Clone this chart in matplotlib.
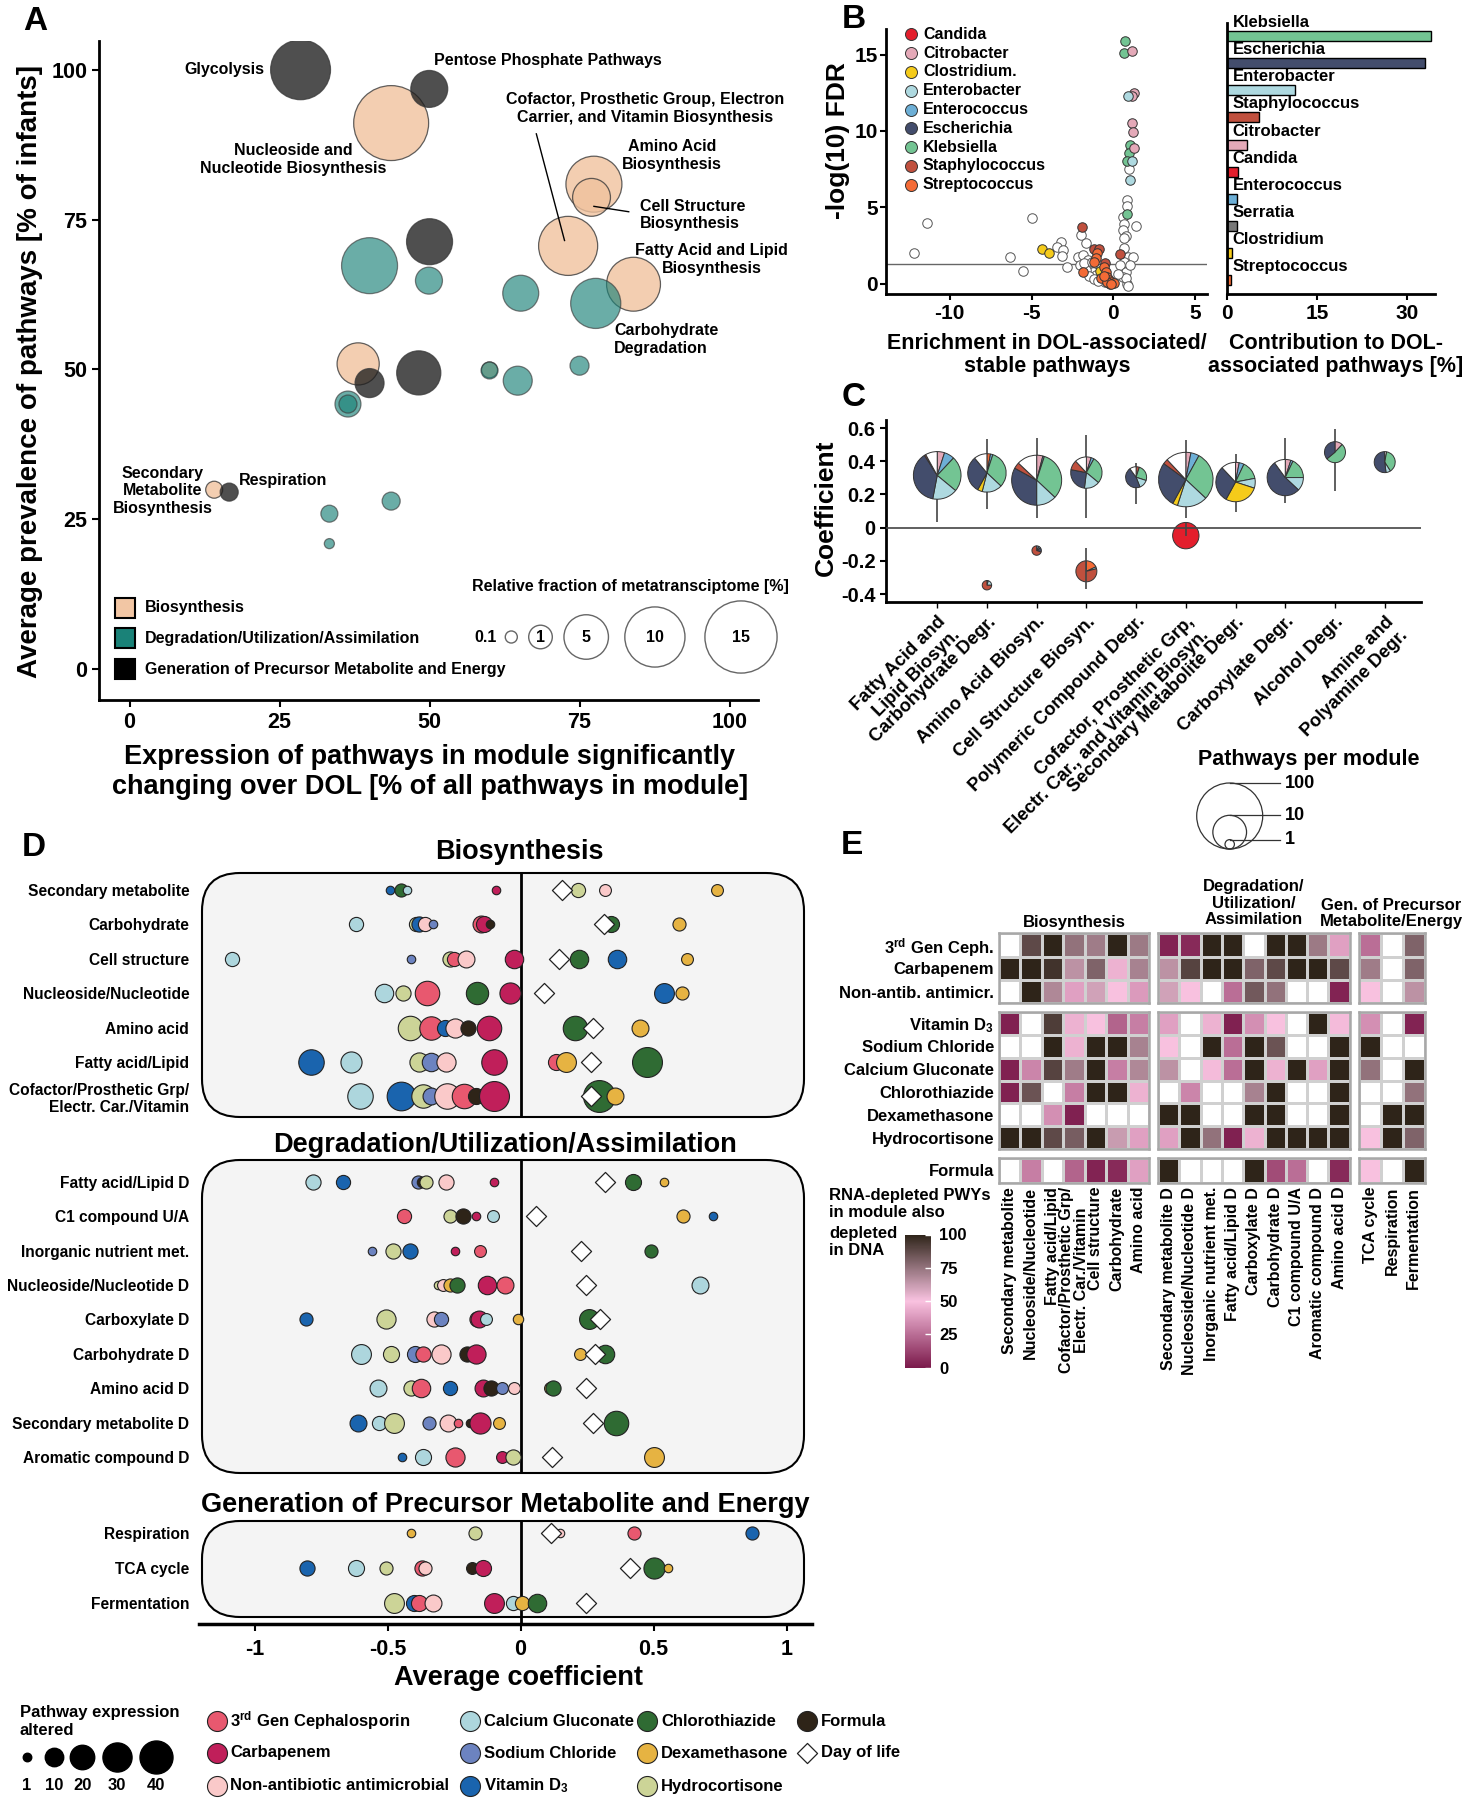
import numpy as np
import matplotlib
matplotlib.use("Agg")
import matplotlib.pyplot as plt
from matplotlib.patches import Wedge, FancyBboxPatch, Circle, Rectangle
from matplotlib.colors import LinearSegmentedColormap
from matplotlib import transforms

W, H = 1465, 1800
plt.rcParams['font.family'] = ['Liberation Sans', 'DejaVu Sans']
plt.rcParams['font.weight'] = 'bold'
plt.rcParams['axes.unicode_minus'] = False
plt.rcParams['mathtext.fontset'] = 'custom'
plt.rcParams['mathtext.rm'] = 'Liberation Sans:bold'
plt.rcParams['mathtext.bf'] = 'Liberation Sans:bold'
plt.rcParams['mathtext.it'] = 'Liberation Sans:bold'

# ---------------- data: panel A ----------------
a_bio_x = [43.6, 77.4, 77.0, 73.1, 84.0, 38.1, 60.0, 14.1]
a_bio_y = [91.1, 80.9, 78.7, 70.6, 64.2, 50.9, 49.9, 29.9]
a_bio_f = [16.3, 8.5, 3.4, 9.6, 7.8, 4.4, 0.30, 0.37]
a_deg_x = [40.0, 49.9, 65.2, 77.7, 75.0, 60.0, 64.7, 36.4, 36.4, 33.3, 43.6, 33.3]
a_deg_y = [67.3, 64.8, 62.7, 61.0, 50.6, 49.8, 48.1, 44.2, 44.2, 25.9, 28.0, 20.9]
a_deg_f = [8.5, 1.44, 3.0, 6.6, 0.53, 0.37, 1.74, 1.3, 0.45, 0.37, 0.45, 0.04]
a_gen_x = [28.5, 49.95, 50.0, 48.2, 40.0, 16.6]
a_gen_y = [100.0, 96.8, 71.3, 49.4, 47.7, 29.5]
a_gen_f = [9.9, 3.2, 5.4, 4.9, 1.74, 0.45]
a_size_keys = [0.1, 1, 5, 10, 15]
a_labels = [
    ("Glycolysis", 22.5, 100.0, 'right'),
    ("Pentose Phosphate Pathways", 50.7, 101.6, 'left'),
    ("Nucleoside and\nNucleotide Biosynthesis", 27.3, 85.0, 'center'),
    ("Cofactor, Prosthetic Group, Electron\nCarrier, and Vitamin Biosynthesis", 86.0, 93.5, 'center'),
    ("Amino Acid\nBiosynthesis", 90.4, 85.7, 'center'),
    ("Cell Structure\nBiosynthesis", 85.0, 75.8, 'left'),
    ("Fatty Acid and Lipid\nBiosynthesis", 97.0, 68.3, 'center'),
    ("Carbohydrate\nDegradation", 80.8, 55.0, 'left'),
    ("Secondary\nMetabolite\nBiosynthesis", 5.5, 29.7, 'center'),
    ("Respiration", 18.2, 31.4, 'left'),
]

# ---------------- data: panel B ----------------
genus_col = {
    'Candida': '#E31E2C', 'Citrobacter': '#E4A9B8', 'Clostridium': '#F5CB1A',
    'Enterobacter': '#AED9E0', 'Enterococcus': '#6DAFD6', 'Escherichia': '#434D6C',
    'Klebsiella': '#73C493', 'Staphylococcus': '#C0503E', 'Streptococcus': '#F46B36',
    'Serratia': '#777777', 'Other': 'white',
}
b_legend = ['Candida', 'Citrobacter', 'Clostridium', 'Enterobacter', 'Enterococcus',
            'Escherichia', 'Klebsiella', 'Staphylococcus', 'Streptococcus']
b_white = [(-11.4, 3.95), (-12.2, 2.0), (-6.3, 1.75), (-5.5, 0.8), (-5.0, 4.3),
           (-3.23, 2.7), (-3.44, 2.37), (-3.07, 2.2), (-3.17, 1.83), (-2.86, 1.07),
           (-1.99, 3.18), (-1.7, 2.64), (-2.15, 1.72), (-1.84, 1.87), (-2.05, 1.22),
           (-1.56, 1.55), (-1.4, 1.11), (-1.25, 0.78), (-1.05, 0.56), (-0.85, 0.34),
           (-0.54, 0.12), (-1.7, 0.9), (-1.5, 0.5), (-1.2, 0.3), (-0.95, 0.15),
           (-1.8, 1.35), (-1.3, 1.4), (-0.7, 0.7), (-0.3, 0.1),
           (0.85, 5.5), (0.85, 5.1), (1.4, 3.8), (0.6, 4.34), (0.66, 3.9), (0.56, 3.5),
           (0.76, 3.12), (0.64, 2.97), (0.97, 7.5), (0.91, 1.76), (1.17, 1.72),
           (0.64, 1.44), (0.4, 1.22), (0.77, 0.78), (0.56, 0.45), (0.81, 0.0),
           (0.77, 0.34), (0.66, 2.3), (1.0, 1.2), (0.3, 0.6), (0.9, -0.17)]
b_pts = {
    'Klebsiella': [(0.73, 15.9), (0.62, 15.1), (1.04, 9.06), (0.98, 8.56), (0.85, 8.05), (0.85, 4.56)],
    'Citrobacter': [(1.16, 15.2), (1.25, 12.5), (1.16, 12.3), (1.15, 10.5), (1.17, 9.9), (1.24, 8.9)],
    'Enterobacter': [(0.92, 12.3), (1.15, 8.05), (1.01, 6.8)],
    'Clostridium': [(-4.35, 2.27), (-3.93, 2.03), (-0.83, 0.85)],
    'Staphylococcus': [(-1.9, 3.68), (-1.19, 2.27), (-0.87, 2.27), (-0.52, 1.37), (0.4, 1.94)],
    'Streptococcus': [(-1.03, 1.98), (-1.07, 1.65), (-1.19, 1.39), (-1.88, 0.78), (-0.58, 1.07),
                      (-0.45, 0.73), (-0.38, 0.45), (-0.26, 0.23), (-0.12, 0.12), (0.03, 0.05),
                      (-0.22, 0.0), (-0.73, 0.34), (-0.38, 0.12), (-0.6, 0.5), (-0.15, -0.05)],
}
b_bar_names = ["Klebsiella", "Escherichia", "Enterobacter", "Staphylococcus", "Citrobacter",
               "Candida", "Enterococcus", "Serratia", "Clostridium", "Streptococcus"]
b_bar_vals = [34.0, 33.0, 11.3, 5.3, 3.3, 1.9, 1.7, 1.6, 0.85, 0.6]

# ---------------- data: panel C ----------------
c_cats = ["Fatty Acid and\nLipid Biosyn.", "Carbohydrate Degr.", "Amino Acid Biosyn.",
          "Cell Structure Biosyn.", "Polymeric Compound Degr.",
          "Cofactor, Prosthetic Grp,\nElectr. Car., and Vitamin Biosyn.",
          "Secondary Metabolite Degr.", "Carboxylate Degr.", "Alcohol Degr.",
          "Amine and\nPolyamine Degr."]
c_pos_coef = [0.315, 0.33, 0.286, 0.332, 0.304, 0.29, 0.275, 0.302, 0.455, 0.395]
c_pos_lo = [0.032, 0.11, 0.06, 0.056, 0.14, 0.056, 0.096, 0.15, 0.222, None]
c_pos_hi = [0.46, 0.535, 0.543, 0.559, 0.39, 0.529, 0.443, 0.539, 0.595, None]
c_pos_n = [27, 14, 32, 8, 3, 44, 15, 12, 3, 3]
c_pos_pies = [
    [('Citrobacter', .05), ('Enterococcus', .07), ('Klebsiella', .24), ('Enterobacter', .17), ('Escherichia', .38), ('Staphylococcus', .01), ('Other', .08)],
    [('Streptococcus', .03), ('Enterococcus', .02), ('Klebsiella', .32), ('Enterobacter', .17), ('Clostridium', .04), ('Escherichia', .31), ('Other', .11)],
    [('Citrobacter', .04), ('Enterococcus', .01), ('Klebsiella', .32), ('Enterobacter', .13), ('Escherichia', .33), ('Staphylococcus', .04), ('Other', .13)],
    [('Citrobacter', .05), ('Enterococcus', .03), ('Klebsiella', .28), ('Enterobacter', .16), ('Escherichia', .26), ('Staphylococcus', .10), ('Other', .12)],
    [('Staphylococcus', .05), ('Klebsiella', .25), ('Enterobacter', .14), ('Escherichia', .46), ('Other', .10)],
    [('Citrobacter', .03), ('Enterococcus', .05), ('Klebsiella', .29), ('Enterobacter', .18), ('Clostridium', .03), ('Escherichia', .27), ('Staphylococcus', .03), ('Other', .12)],
    [('Citrobacter', .03), ('Enterococcus', .04), ('Klebsiella', .15), ('Enterobacter', .08), ('Clostridium', .28), ('Escherichia', .30), ('Other', .12)],
    [('Citrobacter', .05), ('Enterococcus', .02), ('Klebsiella', .18), ('Enterobacter', .12), ('Escherichia', .53), ('Other', .10)],
    [('Citrobacter', .12), ('Klebsiella', .52), ('Escherichia', .36)],
    [('Other', .03), ('Klebsiella', .38), ('Enterobacter', .07), ('Escherichia', .52)],
]
c_neg_idx = [1, 2, 3, 5]
c_neg_coef = [-0.347, -0.138, -0.263, -0.048]
c_neg_lo = [None, None, -0.367, -0.05]
c_neg_hi = [None, None, -0.122, 0.03]
c_neg_n = [1, 1, 3, 5]
c_neg_pies = [
    [('Enterococcus', .05), ('Enterobacter', .20), ('Staphylococcus', .75)],
    [('Enterococcus', .08), ('Enterobacter', .07), ('Escherichia', .15), ('Staphylococcus', .70)],
    [('Streptococcus', .18), ('Enterobacter', .03), ('Staphylococcus', .79)],
    [('Candida', 1.0)],
]
c_size_keys = [1, 10, 100]

# ---------------- data: panel D ----------------
trt_col = {'CEP': '#E8586F', 'CAR': '#C01F5A', 'NAA': '#FAC9C9', 'CAG': '#ADD6DD',
           'NAC': '#6C83C0', 'VD3': '#1A64AE', 'CHL': '#2F6B33', 'DEX': '#E6B342',
           'HYD': '#CCD497', 'FOR': '#2E2418'}
d_bio_rows = ["Secondary metabolite", "Carbohydrate", "Cell structure", "Nucleoside/Nucleotide",
              "Amino acid", "Fatty acid/Lipid", "Cofactor/Prosthetic Grp/\nElectr. Car./Vitamin"]
d_bio_pts = [
    [('VD3', -0.49, 1), ('CHL', -0.448, 4), ('CAG', -0.428, 1), ('CAR', -0.092, 1), ('HYD', 0.216, 5), ('NAA', 0.316, 3), ('DEX', 0.74, 3)],
    [('CAG', -0.62, 5), ('HYD', -0.392, 5), ('VD3', -0.38, 6), ('NAA', -0.36, 5), ('NAC', -0.328, 1), ('CEP', -0.15, 8), ('CAR', -0.136, 7), ('FOR', -0.116, 1), ('CHL', 0.34, 7), ('DEX', 0.594, 4)],
    [('CAG', -1.084, 5), ('NAC', -0.41, 1), ('HYD', -0.264, 6), ('CEP', -0.25, 5), ('NAA', -0.204, 8), ('CAR', -0.024, 10), ('CHL', 0.22, 10), ('VD3', 0.364, 10), ('DEX', 0.626, 3)],
    [('CAG', -0.514, 10), ('HYD', -0.44, 6), ('CEP', -0.35, 20), ('CHL', -0.162, 16), ('CAR', -0.04, 14), ('VD3', 0.538, 12), ('DEX', 0.608, 4)],
    [('HYD', -0.416, 20), ('CEP', -0.336, 18), ('VD3', -0.284, 7), ('NAA', -0.248, 11), ('FOR', -0.198, 6), ('CAR', -0.118, 20), ('CHL', 0.204, 20), ('DEX', 0.45, 8)],
    [('VD3', -0.788, 22), ('CAG', -0.636, 14), ('HYD', -0.38, 11), ('NAC', -0.336, 10), ('NAA', -0.28, 11), ('CAR', -0.098, 22), ('CEP', 0.134, 7), ('DEX', 0.172, 12), ('CHL', 0.474, 32)],
    [('CAG', -0.604, 22), ('VD3', -0.45, 29), ('HYD', -0.366, 18), ('NAC', -0.336, 8), ('NAA', -0.276, 22), ('CEP', -0.214, 20), ('FOR', -0.168, 7), ('CAR', -0.1, 32), ('CHL', 0.294, 37), ('DEX', 0.356, 8)],
]
d_bio_dol = [0.156, 0.314, 0.146, 0.088, 0.274, 0.264, 0.264]
d_deg_rows = ["Fatty acid/Lipid D", "C1 compound U/A", "Inorganic nutrient met.", "Nucleoside/Nucleotide D",
              "Carboxylate D", "Carbohydrate D", "Amino acid D", "Secondary metabolite D", "Aromatic compound D"]
d_deg_pts = [
    [('CAG', -0.78, 6), ('VD3', -0.666, 5), ('NAC', -0.386, 4), ('FOR', -0.37, 2), ('HYD', -0.356, 4), ('NAA', -0.28, 6), ('CAR', -0.1, 1), ('CHL', 0.424, 7), ('DEX', 0.54, 1)],
    [('CEP', -0.438, 5), ('HYD', -0.266, 4), ('FOR', -0.218, 6), ('CAR', -0.166, 1), ('CAG', -0.104, 3), ('DEX', 0.612, 4), ('VD3', 0.724, 1)],
    [('NAC', -0.558, 1), ('HYD', -0.48, 6), ('VD3', -0.416, 6), ('CAR', -0.246, 1), ('CEP', -0.152, 3), ('CHL', 0.49, 4)],
    [('HYD', -0.31, 1), ('NAA', -0.29, 3), ('DEX', -0.264, 4), ('CHL', -0.24, 6), ('CAR', -0.126, 10), ('CEP', -0.06, 8), ('CAG', 0.676, 8)],
    [('VD3', -0.806, 4), ('HYD', -0.504, 11), ('NAA', -0.324, 6), ('NAC', -0.3, 5), ('CEP', -0.164, 6), ('CAR', -0.156, 8), ('CAG', -0.128, 3), ('DEX', -0.01, 2), ('CHL', 0.256, 12)],
    [('CAG', -0.6, 12), ('HYD', -0.488, 7), ('NAC', -0.396, 7), ('CEP', -0.366, 6), ('NAA', -0.3, 11), ('FOR', -0.2, 6), ('CAR', -0.166, 11), ('DEX', 0.224, 3), ('CHL', 0.316, 10)],
    [('CAG', -0.536, 8), ('HYD', -0.41, 6), ('CEP', -0.374, 10), ('VD3', -0.266, 5), ('CAR', -0.14, 8), ('FOR', -0.11, 6), ('NAC', -0.07, 3), ('NAA', -0.026, 3), ('DEX', 0.11, 3), ('CHL', 0.124, 6)],
    [('VD3', -0.61, 8), ('CAG', -0.532, 5), ('HYD', -0.474, 12), ('NAC', -0.344, 4), ('NAA', -0.274, 8), ('CEP', -0.236, 1), ('FOR', -0.19, 1), ('CAR', -0.154, 14), ('DEX', -0.082, 3), ('CHL', 0.36, 20)],
    [('VD3', -0.446, 1), ('CAG', -0.368, 7), ('CEP', -0.246, 11), ('CAR', -0.07, 3), ('HYD', -0.03, 6), ('DEX', 0.502, 12)],
]
d_deg_dol = [0.316, 0.058, 0.228, 0.246, 0.30, 0.28, 0.246, 0.274, 0.12]
d_gen_rows = ["Respiration", "TCA cycle", "Fermentation"]
d_gen_pts = [
    [('DEX', -0.41, 1), ('HYD', -0.17, 4), ('NAA', 0.15, 1), ('CEP', 0.426, 4), ('VD3', 0.87, 4)],
    [('VD3', -0.802, 6), ('CAG', -0.62, 7), ('HYD', -0.506, 4), ('CEP', -0.37, 6), ('NAA', -0.36, 4), ('FOR', -0.182, 3), ('CAR', -0.142, 7), ('CHL', 0.5, 14), ('DEX', 0.556, 1)],
    [('HYD', -0.474, 12), ('VD3', -0.4, 7), ('CEP', -0.38, 7), ('NAA', -0.33, 8), ('CAR', -0.1, 12), ('CAG', -0.03, 5), ('DEX', 0.004, 5), ('CHL', 0.062, 10)],
]
d_gen_dol = [0.114, 0.41, 0.246]
d_size_keys = [1, 10, 20, 30, 40]
d_legend = [('CEP', r"3$^{\mathrm{rd}}$ Gen Cephalosporin"), ('CAR', "Carbapenem"),
            ('NAA', "Non-antibiotic antimicrobial"), ('CAG', "Calcium Gluconate"),
            ('NAC', "Sodium Chloride"), ('VD3', r"Vitamin D$_3$"),
            ('CHL', "Chlorothiazide"), ('DEX', "Dexamethasone"), ('HYD', "Hydrocortisone"),
            ('FOR', "Formula"), ('DOL', "Day of life")]

# ---------------- data: panel E ----------------
e_cols_bio = ["Secondary metabolite", "Nucleoside/Nucleotide", "Fatty acid/Lipid",
              "Cofactor/Prosthetic Grp/\nElectr. Car./Vitamin", "Cell structure", "Carbohydrate", "Amino acid"]
e_cols_deg = ["Secondary metabolite D", "Nucleoside/Nucleotide D", "Inorganic nutrient met.",
              "Fatty acid/Lipid D", "Carboxylate D", "Carbohydrate D", "C1 compound U/A",
              "Aromatic compound D", "Amino acid D"]
e_cols_gen = ["TCA cycle", "Respiration", "Fermentation"]
e_rows_1 = [r"3$^{\mathrm{rd}}$ Gen Ceph.", "Carbapenem", "Non-antib. antimicr."]
e_rows_2 = [r"Vitamin D$_3$", "Sodium Chloride", "Calcium Gluconate", "Chlorothiazide",
            "Dexamethasone", "Hydrocortisone"]
e_rows_3 = ["Formula"]
N = np.nan
e_vals = np.array([
    [N, 88, 100, 75, 72, 100, 73, 3, 5, 100, 100, N, 100, 100, 73, 40, 25, N, 80],
    [100, 100, 95, 65, 80, 45, 70, 65, 90, 100, 100, 80, 88, 100, 100, 88, 72, N, 80],
    [N, 100, 68, 40, 60, 50, 38, 60, 50, N, 25, 83, 75, N, N, 3, 50, N, 65],
    [2, N, 92, 45, 50, 22, 30, 40, N, 45, 2, 35, 50, N, 100, 48, 35, N, 3],
    [N, N, 100, 45, 100, 100, 70, 50, N, 100, 25, 100, 85, N, N, 100, 100, N, N],
    [2, 32, 90, 72, 100, 30, 68, 65, N, 48, 25, 100, 45, 100, 40, 100, 75, N, 100],
    [2, 85, N, 30, 100, 100, 45, N, 32, N, N, 70, 100, N, N, 100, N, N, 75],
    [N, N, 35, 2, N, N, N, 100, 100, N, N, 100, 100, N, N, 100, N, 100, 100],
    [100, 100, 88, 82, 100, 62, 40, 40, 100, 75, 2, 45, 100, 100, 100, 100, 50, 100, 80],
    [N, 30, N, 22, 3, 5, 40, 100, N, N, N, 100, 15, 25, N, 5, 50, N, 100],
])


fig = plt.figure(figsize=(W / 100, H / 100), dpi=100)


def px_axes(l, t, r, b, **kw):
    return fig.add_axes([l / W, 1 - b / H, (r - l) / W, (b - t) / H], **kw)


def ftext(x, y, s, **kw):
    return fig.text(x / W, 1 - y / H, s, **kw)


def msize(d_px):
    return (np.asarray(d_px) * 0.72) ** 2


def a_diam(f):
    return 6.7 + 16.9 * np.sqrt(np.asarray(f, dtype=float))


def c_diam(n):
    return np.interp(np.log10(n), [0, 1, 2], [9.4, 33.7, 66.0])


def d_diam(n):
    return 3.9 + 4.6 * np.sqrt(np.asarray(n, dtype=float))


bg = fig.add_axes([0, 0, 1, 1], zorder=-5)
bg.set_xlim(0, W)
bg.set_ylim(H, 0)
bg.axis('off')
ov = fig.add_axes([0, 0, 1, 1], zorder=10)
ov.set_xlim(0, W)
ov.set_ylim(H, 0)
ov.axis('off')

# ================= Panel A =================
axA = px_axes(99, 41, 758, 700)
groups = [(a_bio_x, a_bio_y, a_bio_f, '#F0C29E', 0.8),
          (a_deg_x, a_deg_y, a_deg_f, '#1A8278', 0.65),
          (a_gen_x, a_gen_y, a_gen_f, '#1E1E1E', 0.78)]
for xs, ys, fr, col, al in groups:
    axA.scatter(xs, ys, s=msize(a_diam(fr)), c=col, alpha=al, edgecolors='#3a3a3a',
                linewidths=0.9, zorder=2)
for txt, x, y, ha in a_labels:
    axA.text(x, y, txt, ha=ha, va='center', fontsize=11.5, linespacing=1.2, zorder=4)
axA.plot([67.8, 72.5], [89.3, 71.5], color='black', lw=1)
axA.plot([77.4, 83.2], [77.2, 76.3], color='black', lw=1)
axA.set_xlim(-5.1, 104.75)
axA.set_ylim(-5.2, 104.8)
axA.set_xticks([0, 25, 50, 75, 100])
axA.set_yticks([0, 25, 50, 75, 100])
for sp in ['top', 'right']:
    axA.spines[sp].set_visible(False)
for sp in ['left', 'bottom']:
    axA.spines[sp].set_linewidth(2)
axA.tick_params(labelsize=15.5, width=1.5, length=5)
ftext(430, 772, "Expression of pathways in module significantly\nchanging over DOL [% of all pathways in module]",
      ha='center', va='center', fontsize=19.5, linespacing=1.2)
ftext(30, 372, "Average prevalence of pathways [% of infants]", ha='center', va='center',
      rotation=90, fontsize=20)

leg_a = [('#F2C6A4', 'Biosynthesis'), ('#1A8278', 'Degradation/Utilization/Assimilation'),
         ('black', 'Generation of Precursor Metabolite and Energy')]
for i, (col, lab) in enumerate(leg_a):
    yy = 607.7 + 30.7 * i
    ov.add_patch(Rectangle((115, yy - 10), 20, 20, facecolor=col, edgecolor='black', lw=1.5))
    ov.text(144.6, yy, lab, ha='left', va='center', fontsize=11.5)
ftext(789, 587, "Relative fraction of metatransciptome [%]", ha='right', va='center', fontsize=11.5)
for v, xx in zip(a_size_keys, [511.3, 540.5, 586.2, 654.9, 741.0]):
    ov.add_patch(Circle((xx, 637), a_diam(v) / 2, facecolor='white', edgecolor='#666666', lw=1))
    if v >= 1:
        ov.text(xx, 637, str(v), ha='center', va='center', fontsize=11.5)
ov.text(486, 637, "0.1", ha='center', va='center', fontsize=11.5)

# ================= Panel B =================
axB = px_axes(886, 29, 1207, 294)
wx, wy = zip(*b_white)
axB.scatter(wx, wy, s=msize(9.5), c='white', edgecolors='#555555', linewidths=0.7, zorder=2)
for g, pts in b_pts.items():
    gx, gy = zip(*pts)
    axB.scatter(gx, gy, s=msize(9.5), c=genus_col[g], edgecolors='#333333', linewidths=0.7, zorder=3)
axB.axhline(1.3, color='#666666', lw=1, zorder=1)
axB.set_xlim(-13.9, 5.72)
axB.set_ylim(-0.68, 16.67)
axB.set_xticks([-10, -5, 0, 5])
axB.set_yticks([0, 5, 10, 15])
for sp in ['top', 'right']:
    axB.spines[sp].set_visible(False)
for sp in ['left', 'bottom']:
    axB.spines[sp].set_linewidth(2)
axB.tick_params(labelsize=15, width=1.5, length=4)
axB.tick_params(axis='y', pad=2)
for i, g in enumerate(b_legend):
    yy = 34.3 + 18.8 * i
    ov.scatter([911], [yy], s=msize(12), c=genus_col[g], edgecolors='#333333', linewidths=0.7)
    ov.text(923, yy, g + ('.' if g == 'Clostridium' else ''), ha='left', va='center', fontsize=11.5)
ftext(838, 141, "-log(10) FDR", ha='center', va='center', rotation=90, fontsize=19)
ftext(1047, 355, "Enrichment in DOL-associated/\nstable pathways", ha='center', va='center',
      fontsize=15.5, linespacing=1.16)

axB2 = px_axes(1227, 23, 1435, 294)
idx = np.arange(len(b_bar_names))
axB2.barh(idx, b_bar_vals, height=0.37, color=[genus_col[g] for g in b_bar_names],
          edgecolor='black', linewidth=1)
for i, g in enumerate(b_bar_names):
    axB2.text(0.9, i - 0.5, g, ha='left', va='center', fontsize=12, clip_on=False)
axB2.set_xlim(0, 34.7)
axB2.set_ylim(9.52, -0.49)
axB2.set_xticks([0, 15, 30])
axB2.set_yticks([])
for sp in ['top', 'right']:
    axB2.spines[sp].set_visible(False)
for sp in ['left', 'bottom']:
    axB2.spines[sp].set_linewidth(2)
axB2.tick_params(labelsize=15, width=1.5, length=4)
ftext(1336, 355, "Contribution to DOL-\nassociated pathways [%]", ha='center', va='center',
      fontsize=15.5, linespacing=1.16)

# ================= Panel C =================
axC = px_axes(886, 420, 1421, 602)


def draw_pie(ax, x, y, diam, slices, z=2):
    tr = fig.dpi_scale_trans + transforms.ScaledTranslation(x, y, ax.transData)
    r = diam / 2 / 100
    start = 0.0
    for g, f in slices:
        t2 = 90 - start * 360
        t1 = 90 - (start + f) * 360
        ax.add_patch(Wedge((0, 0), r, t1, t2, transform=tr, facecolor=genus_col[g],
                           edgecolor='#333333', lw=0.7, zorder=z))
        start += f


for i in range(len(c_cats)):
    if c_pos_lo[i] is not None:
        axC.vlines(i, c_pos_lo[i], c_pos_hi[i], color='#444444', lw=1.2, zorder=1)
    draw_pie(axC, i, c_pos_coef[i], c_diam(c_pos_n[i]), c_pos_pies[i])
for j, i in enumerate(c_neg_idx):
    draw_pie(axC, i, c_neg_coef[j], c_diam(c_neg_n[j]), c_neg_pies[j])
    if c_neg_lo[j] is not None:
        axC.vlines(i, c_neg_lo[j], c_neg_hi[j], color='#444444', lw=1.2, zorder=3)
axC.axhline(0, color='#444444', lw=1.2, zorder=3)
axC.set_xlim(-1.03, 9.73)
axC.set_ylim(-0.448, 0.649)
axC.set_yticks([-0.4, -0.2, 0, 0.2, 0.4, 0.6])
axC.set_yticklabels(['-0.4', '-0.2', '0', '0.2', '0.4', '0.6'])
axC.set_xticks(range(len(c_cats)))
axC.set_xticklabels(c_cats, rotation=45, ha='right', rotation_mode='anchor', fontsize=13.2)
for sp in ['top', 'right']:
    axC.spines[sp].set_visible(False)
for sp in ['left', 'bottom']:
    axC.spines[sp].set_linewidth(2)
axC.tick_params(axis='y', labelsize=14.5, width=1.5, length=4)
axC.tick_params(axis='x', width=1, length=4, pad=4)
ftext(826, 508, "Coefficient", ha='center', va='center', rotation=90, fontsize=19)
ftext(1309, 760, "Pathways per module", ha='center', va='center', fontsize=15.5)
for n in c_size_keys[::-1]:
    dd = c_diam(n)
    ov.add_patch(Circle((1229.7, 849 - dd / 2), dd / 2, facecolor='none', edgecolor='#333333', lw=0.9))
    ov.plot([1229.7, 1279.5], [849 - dd, 849 - dd], color='#333333', lw=0.9)
    ov.text(1284.6, 849 - dd, str(n), ha='left', va='center', fontsize=13)

# ================= Panel D =================
x0px, x1px = 199, 812
dxl = ((x0px - 520.5) / 266, (x1px - 520.5) / 266)
facets = [
    (873, 1117, 873, 1117, 890, 34.4, d_bio_rows, d_bio_pts, d_bio_dol, 'Biosynthesis', 519, 852),
    (1160, 1473, 1160, 1473, 1181.7, 34.4, d_deg_rows, d_deg_pts, d_deg_dol,
     'Degradation/Utilization/Assimilation', 505, 1145),
    (1521, 1624, 1521, 1617, 1533, 34.85, d_gen_rows, d_gen_pts, d_gen_dol,
     'Generation of Precursor Metabolite and Energy', 505, 1505),
]
for k, (t, b, bt, bb, r0, sp_, rows, pts, dol, title, tx, ty) in enumerate(facets):
    bg.add_patch(FancyBboxPatch((202, bt), 804 - 202, bb - bt,
                                boxstyle="round,pad=0,rounding_size=38",
                                facecolor='#F4F4F4', edgecolor='black', lw=1.5))
    ax = px_axes(x0px, t, x1px, b)
    ax.patch.set_alpha(0)
    ax.axvline(0, color='black', lw=2, zorder=1)
    for i, row in enumerate(rows):
        for code, cx, n in pts[i]:
            ax.scatter([cx], [i], s=msize(d_diam(n)), c=trt_col[code], edgecolors='#222222',
                       linewidths=0.8, zorder=2)
    ax.scatter(dol, range(len(rows)), s=105, marker='D', c='white', edgecolors='#222222',
               linewidths=0.9, zorder=3)
    ax.set_xlim(*dxl)
    ax.set_ylim((b - r0) / sp_, (t - r0) / sp_)
    ax.set_yticks(range(len(rows)))
    ax.set_yticklabels(rows, fontsize=11.2, linespacing=1.2)
    ax.tick_params(axis='y', left=False, pad=3.6)
    for s in ['top', 'right', 'left']:
        ax.spines[s].set_visible(False)
    if k < 2:
        ax.spines['bottom'].set_visible(False)
        ax.set_xticks([])
    else:
        ax.spines['bottom'].set_linewidth(2.5)
        ax.set_xticks([-1, -0.5, 0, 0.5, 1])
        ax.set_xticklabels(['-1', '-0.5', '0', '0.5', '1'])
        ax.tick_params(axis='x', labelsize=15.5, width=1.5, length=5, pad=6)
    ftext(tx, ty, title, ha='center', va='center', fontsize=19.5)
ftext(518, 1678, "Average coefficient", ha='center', va='center', fontsize=19.5)

# legends for D
ftext(20, 1705, "Pathway expression\naltered", ha='left', va='top', fontsize=12, linespacing=1.25)
for n, xx in zip(d_size_keys, [26.6, 53.7, 82.4, 117.0, 155.9]):
    ov.scatter([xx], [1757], s=msize(d_diam(n)), c='black')
    ov.text(xx, 1786, str(n), ha='center', va='center', fontsize=12)
col_x = [216.5, 470, 647, 807]
row_y = [1721, 1753, 1786]
for j, (code, lab) in enumerate(d_legend):
    cx, ry = col_x[j // 3], row_y[j % 3]
    if code == 'DOL':
        ov.scatter([cx], [ry], s=105, marker='D', c='white', edgecolors='#222222', linewidths=0.9)
    else:
        ov.scatter([cx], [ry], s=msize(20), c=trt_col[code], edgecolors='#222222', linewidths=0.8)
    ov.text(cx + 14, ry, lab, ha='left', va='center', fontsize=12)

# ================= Panel E =================
cmap = LinearSegmentedColormap.from_list('dep', ['#7B1A4B', '#F9C2E0', '#2E2419'])
cmap = cmap.with_extremes(bad='white')
col_groups = [(998.5, 1149.3, e_cols_bio), (1158, 1349.7, e_cols_deg), (1359.3, 1424.5, e_cols_gen)]
row_groups = [(933.4, 1003.3, e_rows_1), (1012, 1149, e_rows_2), (1157.6, 1182.6, e_rows_3)]
ri0 = 0
mesh = None
for ri, (rt, rb, rlabs) in enumerate(row_groups):
    ci0 = 0
    for ci, (cl, cr, clabs) in enumerate(col_groups):
        ax = px_axes(cl, rt, cr, rb)
        sub = e_vals[ri0:ri0 + len(rlabs), ci0:ci0 + len(clabs)]
        mesh = ax.pcolormesh(np.ma.masked_invalid(sub), cmap=cmap, vmin=0, vmax=100,
                             edgecolors='#D0D0D0', linewidth=0.8)
        ax.set_xlim(0, len(clabs))
        ax.set_ylim(len(rlabs), 0)
        for s in ax.spines.values():
            s.set_color('#A8A8A8')
            s.set_linewidth(1.8)
        ax.tick_params(length=0)
        if ci == 0:
            ax.set_yticks(np.arange(len(rlabs)) + 0.5)
            ax.set_yticklabels(rlabs, fontsize=12)
            ax.tick_params(axis='y', pad=3)
        else:
            ax.set_yticks([])
        if ri == 2:
            ax.set_xticks(np.arange(len(clabs)) + 0.5)
            ax.set_xticklabels(clabs, rotation=90, fontsize=11.5, linespacing=0.95)
            ax.tick_params(axis='x', pad=3)
        else:
            ax.set_xticks([])
        ci0 += len(clabs)
    ri0 += len(rlabs)
ftext(1074, 923, "Biosynthesis", ha='center', va='center', fontsize=12)
ftext(1254, 903, "Degradation/\nUtilization/\nAssimilation", ha='center', va='center',
      fontsize=12, linespacing=1.15)
ftext(1391, 913.5, "Gen. of Precursor\nMetabolite/Energy", ha='center', va='center',
      fontsize=12, linespacing=1.15)
cax = px_axes(905, 1234.5, 930.7, 1367.7)
cb = fig.colorbar(mesh, cax=cax, ticks=[0, 25, 50, 75, 100])
cb.outline.set_visible(False)
cax.tick_params(labelsize=12, length=4, color='white', direction='in', width=1, pad=6)
ftext(829, 1188, "RNA-depleted PWYs\nin module also", ha='left', va='top',
      fontsize=12, linespacing=1.15)
ftext(829, 1226, "depleted\nin DNA", ha='left', va='top', fontsize=12, linespacing=1.15)

# panel letters
for letter, lx, ly in [('A', 35, 22), ('B', 854, 20), ('C', 854, 397), ('D', 34, 848), ('E', 852, 846)]:
    ftext(lx, ly, letter, ha='center', va='center', fontsize=24)

fig.savefig("out.png", dpi=100)
